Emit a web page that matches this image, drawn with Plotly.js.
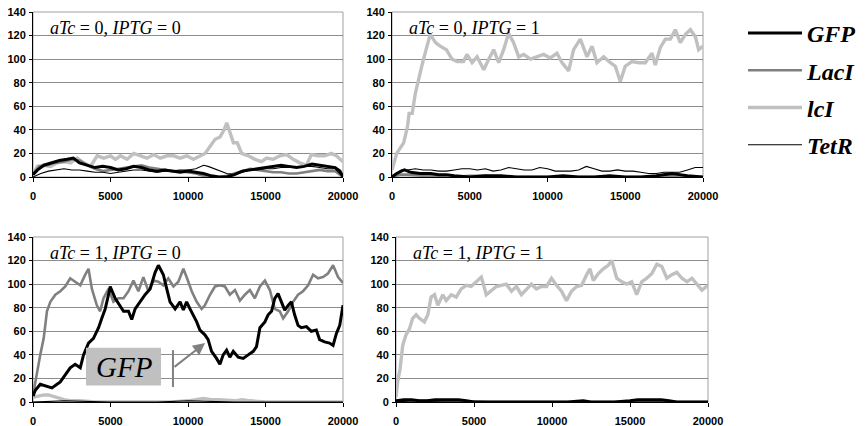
<!DOCTYPE html>
<html><head><meta charset="utf-8">
<script src="https://cdn.plot.ly/plotly-3.0.1.min.js"></script>
<style>html,body{margin:0;padding:0;background:#fff}#plot{width:868px;height:426px}</style>
</head><body><div id="plot"></div>
<script>
// ---------- DATA ----------
const seriesNames = ["GFP", "LacI", "lcI", "TetR"];
const panelTitles = ["<i>aTc</i> = 0, <i>IPTG</i> = 0", "<i>aTc</i> = 0, <i>IPTG</i> = 1", "<i>aTc</i> = 1, <i>IPTG</i> = 0", "<i>aTc</i> = 1, <i>IPTG</i> = 1"];
const xTicks = [0, 5000, 10000, 15000, 20000];

// Panel 1: aTc=0, IPTG=0
const p1_GFP_t = [0,300,700,1200,1700,2200,2600,3000,3500,4000,4500,5000,5500,6000,6500,7000,7500,8000,8500,9000,9500,10000,10500,11000,11500,12000,12500,13000,13500,14000,14500,15000,15500,16000,16500,17000,17500,18000,18500,19000,19500,19800,20000];
const p1_GFP_v = [2,6,10,12,14,15,16,12,10,8,9,8,6,7,9,8,6,5,6,5,4,5,4,3,1,0,0,2,5,6,7,8,9,10,9,8,9,11,10,9,8,5,0];
const p1_LacI_t = [0,400,900,1400,2000,2500,3000,3500,4000,4500,5000,5500,6000,6500,7000,7500,8000,8500,9000,9500,10000,10500,11000,11500,12000,12500,13000,13500,14000,14500,15000,15500,16000,16500,17000,17500,18000,18500,19000,19500,20000];
const p1_LacI_v = [3,9,10,12,13,15,14,10,7,5,6,7,8,9,10,8,7,6,5,5,4,3,1,0,0,1,3,5,7,6,5,4,4,3,3,4,5,6,5,5,0];
const p1_lcI_t = [0,280,710,1140,1560,2000,2420,2850,3280,3710,4140,4570,5000,5320,5640,6070,6500,6930,7350,7780,8210,8640,9070,9500,9920,10350,10780,11100,11430,11750,12070,12330,12500,12710,12930,13180,13460,13890,14320,14750,15070,15500,15930,16360,16790,17210,17640,17960,18390,18820,19250,19570,20000];
const p1_lcI_v = [2,9,10,9,12,13,12,16,12,9,18,16,18,15,18,15,20,18,16,19,16,18,18,16,18,15,18,20,26,32,34,40,46,37,29,29,20,18,15,13,16,15,18,19,15,12,10,19,18,18,20,18,13];
const p1_TetR_t = [0,500,1000,1500,2000,2500,3000,3500,4000,4500,5000,5500,6000,6500,7000,7500,8000,8500,9000,9500,10000,10500,11000,11300,11700,12000,12500,13000,13500,14000,14500,15000,15500,16000,16500,17000,17500,18000,18500,19000,19500,20000];
const p1_TetR_v = [0,3,5,6,7,6,6,5,4,4,3,4,5,6,6,5,4,5,5,6,6,7,10,9,7,5,3,2,4,6,6,7,7,8,8,8,9,9,8,7,7,0];

// Panel 2: aTc=0, IPTG=1
const p2_GFP_t = [0,300,600,800,1200,1800,2500,3000,3500,4000,5000,6000,7000,8000,9000,10000,11000,12000,13000,14000,15000,16000,17000,17500,18000,18500,19000,20000];
const p2_GFP_v = [0,3,5,6,4,3,3,2,2,1,0,1,1,0,0,0,1,0,0,1,0,0,1,2,3,2,1,0];
const p2_LacI_t = [0,500,1000,2000,3000,4000,5000,6000,7000,8000,9000,10000,11000,12000,13000,14000,15000,16000,17000,18000,19000,20000];
const p2_LacI_v = [0,2,2,1,1,0,1,1,0,0,0,0,0,0,0,0,0,0,0,1,0,0];
const p2_lcI_t = [0,300,750,1000,1100,1300,1500,1700,1930,2250,2460,2800,3100,3500,3860,4180,4600,4820,5150,5470,5900,6220,6540,6860,7180,7500,7820,8150,8470,8900,9320,9750,10180,10610,10930,11360,11680,12110,12540,12860,13180,13610,14040,14360,14680,15000,15430,15860,16290,16720,16930,17260,17580,17900,18220,18540,18870,19190,19510,19720,20000];
const p2_lcI_v = [6,20,29,43,54,54,71,83,95,111,121,114,111,108,100,98,98,104,97,102,91,100,108,97,108,122,114,102,104,100,102,104,101,105,97,90,108,117,102,111,97,102,97,94,81,94,98,97,97,105,95,110,117,117,125,114,121,125,119,108,111];
const p2_TetR_t = [0,300,600,1000,1500,2000,2500,3000,3500,4000,4500,5000,5500,6000,6500,7000,7500,8000,8500,9000,9500,10000,10500,11000,11500,12000,12500,13000,13500,14000,14500,15000,15500,16000,16500,17000,17500,18000,18500,19000,19500,20000];
const p2_TetR_v = [0,3,6,6,7,6,6,5,5,6,7,7,6,7,5,6,8,7,6,6,8,7,5,5,5,6,9,7,5,5,6,5,5,4,3,3,4,4,4,6,8,8];

// Panel 3: aTc=1, IPTG=0
const p3_GFP_t = [0,150,470,900,1220,1550,1760,2080,2400,2720,3050,3260,3580,3900,4230,4440,4660,4870,4980,5300,5620,5840,6160,6370,6590,6910,7230,7560,7880,8090,8410,8630,8840,9170,9490,9700,9910,10130,10340,10560,10770,11090,11300,11520,11840,12060,12270,12490,12700,12920,13240,13560,13880,14210,14420,14640,14960,15170,15390,15600,15810,16030,16240,16460,16670,16880,17100,17310,17640,17960,18280,18490,18810,19130,19360,19570,19790,20000];
const p3_GFP_v = [5,10,15,13,12,15,17,23,29,32,29,40,50,54,63,71,79,91,98,88,82,77,77,70,79,85,91,96,110,116,108,96,85,79,85,78,85,79,74,68,61,57,53,43,37,32,40,44,38,43,38,37,40,43,47,63,68,74,77,88,92,85,78,82,85,74,65,63,64,60,61,53,51,50,48,58,65,82];
const p3_LacI_t = [0,260,470,690,900,1120,1440,1760,2080,2400,2720,3050,3370,3580,3800,4120,4330,4550,4870,5190,5510,5840,6160,6480,6800,7120,7450,7770,8090,8410,8730,9060,9380,9700,9910,10240,10560,10880,11090,11420,11740,12060,12380,12700,13030,13350,13670,13990,14310,14640,14960,15280,15600,15920,16140,16460,16780,17100,17420,17750,18070,18390,18710,19030,19360,19680,20000];
const p3_LacI_v = [6,26,40,54,77,85,91,94,98,105,102,99,108,113,96,82,77,88,96,85,88,88,94,103,94,106,94,103,102,99,105,98,102,113,106,94,85,79,82,91,98,99,98,91,95,86,91,95,88,98,103,95,79,77,71,77,85,91,94,99,108,105,106,109,116,106,101];
const p3_lcI_t = [0,300,700,1000,1500,2000,2500,3000,4000,5000,6000,7000,8000,9000,10000,10500,11000,11500,12000,13000,13500,14000,15000,16000,17000,18000,19000,20000];
const p3_lcI_v = [4,5,6,6,4,2,1,1,0,0,0,0,0,0,1,2,3,2,2,1,2,1,0,0,0,0,0,0];
const p3_TetR_t = [0,2000,5000,8000,10000,13000,16000,20000];
const p3_TetR_v = [0,1,0,0,1,0,0,0];

// Panel 4: aTc=1, IPTG=1
const p4_GFP_t = [0,500,1000,1500,2000,2500,3000,3500,4000,4500,5000,6000,7000,8000,9000,10000,11000,12000,12500,13000,14000,15000,15500,16000,16500,17000,17500,18000,19000,20000];
const p4_GFP_v = [1,2,2,1,1,2,2,2,2,1,0,0,0,0,0,0,0,1,0,0,0,1,2,2,2,2,1,0,0,0];
const p4_LacI_t = [0,1000,2000,3000,4000,6000,8000,10000,12000,14000,16000,18000,20000];
const p4_LacI_v = [0,1,1,1,1,0,0,0,0,0,1,0,0];
const p4_lcI_t = [0,100,260,430,640,860,1070,1290,1500,1820,2040,2250,2470,2680,3000,3220,3540,3860,4180,4500,4820,5140,5470,5790,6110,6430,6750,7070,7400,7720,8040,8360,8680,9000,9320,9650,9970,10290,10610,10930,11250,11580,11900,12220,12430,12650,12970,13290,13610,13830,14150,14470,14790,15110,15430,15750,16080,16400,16720,17040,17360,17680,18000,18330,18650,18970,19290,19610,20000];
const p4_lcI_v = [4,17,28,48,57,62,71,74,71,68,74,89,91,82,91,86,91,89,96,99,98,102,106,91,95,98,99,100,94,98,91,96,100,96,98,98,105,99,94,86,94,98,99,108,113,103,109,113,116,120,105,102,100,102,91,102,105,109,117,115,105,108,110,105,102,105,100,95,99];
const p4_TetR_t = [0,1000,3000,5000,8000,11000,14000,17000,20000];
const p4_TetR_v = [0,1,0,0,0,0,0,0,0];

// ---------- STYLE ----------
const styles = {
  GFP:  {color: "#000000", width: 3},
  LacI: {color: "#808080", width: 2.6},
  lcI:  {color: "#c0c0c0", width: 3.4},
  TetR: {color: "#000000", width: 1.1}
};
const panels = [
  {GFP:[p1_GFP_t,p1_GFP_v], LacI:[p1_LacI_t,p1_LacI_v], lcI:[p1_lcI_t,p1_lcI_v], TetR:[p1_TetR_t,p1_TetR_v]},
  {GFP:[p2_GFP_t,p2_GFP_v], LacI:[p2_LacI_t,p2_LacI_v], lcI:[p2_lcI_t,p2_lcI_v], TetR:[p2_TetR_t,p2_TetR_v]},
  {GFP:[p3_GFP_t,p3_GFP_v], LacI:[p3_LacI_t,p3_LacI_v], lcI:[p3_lcI_t,p3_lcI_v], TetR:[p3_TetR_t,p3_TetR_v]},
  {GFP:[p4_GFP_t,p4_GFP_v], LacI:[p4_LacI_t,p4_LacI_v], lcI:[p4_lcI_t,p4_lcI_v], TetR:[p4_TetR_t,p4_TetR_v]}
];
const drawOrder = ["lcI", "LacI", "TetR", "GFP"];
const traces = [];
panels.forEach((p, i) => {
  const ax = i === 0 ? "" : String(i + 1);
  drawOrder.forEach(name => {
    traces.push({
      type: "scatter", mode: "lines", name: name,
      x: p[name][0], y: p[name][1],
      xaxis: "x" + ax, yaxis: "y" + ax,
      line: {color: styles[name].color, width: styles[name].width},
      showlegend: i === 0, legendgroup: name,
      legendrank: seriesNames.indexOf(name) + 1,
      hoverinfo: "skip"
    });
  });
});

const W = 868, H = 426;
const boxes = [ // pixel boxes [left, right, top, bottom]
  [33, 343, 12, 177], [392, 703, 12, 177], [33, 343, 237, 402], [396, 708, 237, 402]
];
const tickFont = {family: "Liberation Sans, Arial, sans-serif", size: 11, color: "#000", weight: "bold"};
const layout = {
  width: W, height: H, margin: {l: 0, r: 0, t: 0, b: 0},
  paper_bgcolor: "#fff", plot_bgcolor: "#fff",
  showlegend: true,
  legend: {x: 743 / W, y: 1 - 11 / H, xanchor: "left", yanchor: "top",
    font: {family: "Liberation Serif, Times New Roman, serif", size: 24, style: "italic", weight: "bold", color: "#000"},
    tracegroupgap: 3, itemwidth: 54, bgcolor: "rgba(0,0,0,0)"},
  annotations: [], shapes: []
};
boxes.forEach((b, i) => {
  const ax = i === 0 ? "" : String(i + 1);
  layout["xaxis" + ax] = {
    domain: [b[0] / W, b[1] / W], anchor: "y" + ax, range: [0, 20000],
    tickvals: xTicks, ticktext: xTicks.map(String), showgrid: false, zeroline: false,
    showline: true, linecolor: "#000", linewidth: 1, ticks: "outside", ticklen: 4, tickcolor: "#000",
    tickfont: tickFont, ticklabelstandoff: 5, fixedrange: true
  };
  layout["yaxis" + ax] = {
    domain: [1 - b[3] / H, 1 - b[2] / H], anchor: "x" + ax, range: [0, 140],
    tickvals: [0,20,40,60,80,100,120,140], showgrid: true, gridcolor: "#8c8c8c", gridwidth: 1,
    zeroline: false, showline: true, linecolor: "#000", linewidth: 1, ticks: "outside", ticklen: 3,
    tickcolor: "#000", tickfont: tickFont, ticklabelstandoff: 1, fixedrange: true
  };
  layout.shapes.push({type: "rect", xref: "x" + ax + " domain", yref: "y" + ax + " domain",
    x0: 0, x1: 1, y0: 0, y1: 1, line: {color: "#a0a0a0", width: 1}, layer: "below"});
  layout.annotations.push({xref: "x" + ax + " domain", yref: "y" + ax + " domain",
    x: 0.047, y: 0.905, xanchor: "left", yanchor: "middle", showarrow: false, text: panelTitles[i],
    font: {family: "Liberation Serif, Times New Roman, serif", size: 18, color: "#000"}});
});
// GFP callout in panel 3
layout.shapes.push({type: "rect", xref: "x3", yref: "y3", x0: 3420, x1: 8260, y0: 14, y1: 46,
  fillcolor: "#c0c0c0", line: {width: 0}, layer: "above"});
layout.shapes.push({type: "line", xref: "x3", yref: "y3", x0: 9030, x1: 9030, y0: 12.7, y1: 44,
  line: {color: "#808080", width: 2}});
layout.annotations.push({xref: "x3", yref: "y3", x: 5840, y: 30, text: "GFP", showarrow: false,
  font: {family: "Liberation Serif, Times New Roman, serif", size: 29, style: "italic", color: "#000"}});
layout.annotations.push({xref: "x3", yref: "y3", axref: "x3", ayref: "y3",
  x: 11100, y: 50, ax: 9030, ay: 28.8, text: "", showarrow: true,
  arrowhead: 2, arrowsize: 1.2, arrowwidth: 2, arrowcolor: "#808080"});

Plotly.newPlot("plot", traces, layout, {staticPlot: true, displayModeBar: false});
</script></body></html>
